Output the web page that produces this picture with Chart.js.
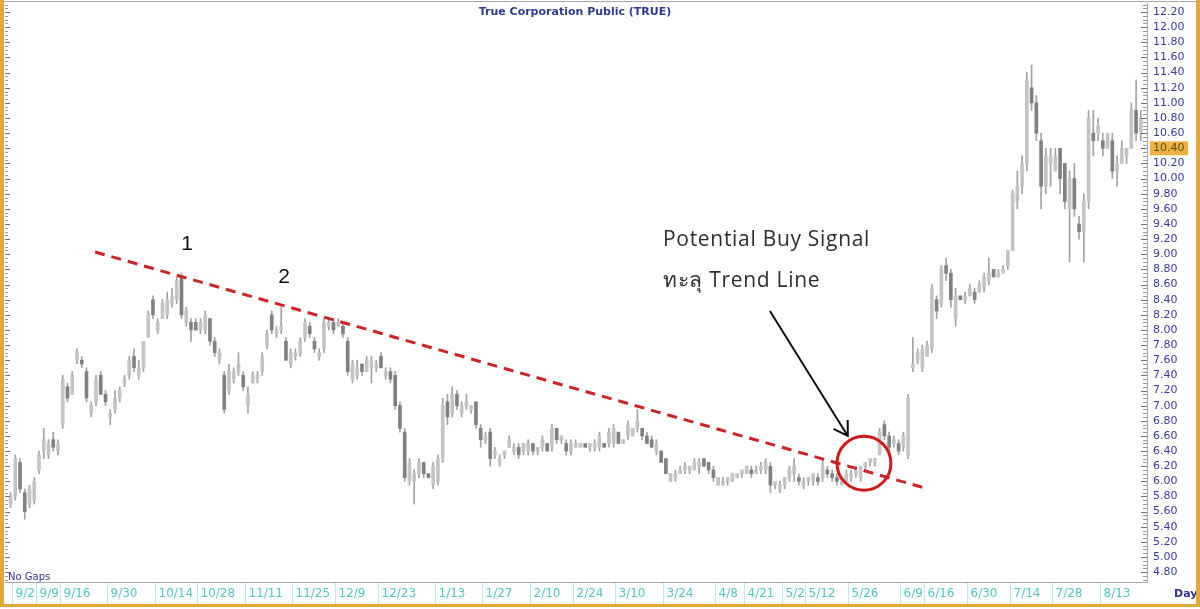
<!DOCTYPE html>
<html>
<head>
<meta charset="utf-8">
<script src="https://cdn.jsdelivr.net/npm/chart.js@4.4.1/dist/chart.umd.min.js"></script>
<style>
  html, body { margin: 0; padding: 0; background: #fff; }
  #wrap { width: 1200px; height: 609px; position: relative; }
</style>
</head>
<body>
<div id="wrap"><canvas id="myChart" width="1200" height="609"></canvas></div>
<script>
// daily candles, 30 Aug 2013 .. Aug 2014
const highs = [
  5.85,6.35,6.30,5.90,5.95,6.05,6.40,6.70,6.55,6.65,6.55,7.40,7.30,7.45,7.75,7.65,7.50,7.05,7.40,7.45,
  7.20,6.95,7.20,7.25,7.40,7.65,7.75,7.60,7.85,8.25,8.45,8.15,8.40,8.50,8.55,8.70,8.75,8.30,8.15,8.15,
  8.15,8.25,8.15,7.90,7.75,7.45,7.55,7.50,7.70,7.45,7.25,7.45,7.45,7.70,8.00,8.25,8.05,8.30,7.90,7.75,
  7.75,7.90,8.15,8.10,7.90,7.75,8.15,8.15,8.15,8.15,8.10,7.90,7.60,7.60,7.55,7.65,7.65,7.60,7.70,7.50,
  7.50,7.45,7.05,6.70,6.30,6.15,6.30,6.25,6.10,6.25,6.35,7.10,7.15,7.25,7.20,7.05,7.15,7.00,7.05,6.75,
  6.65,6.70,6.45,6.35,6.40,6.60,6.50,6.50,6.50,6.55,6.50,6.45,6.60,6.50,6.75,6.70,6.60,6.55,6.55,6.55,
  6.50,6.50,6.50,6.55,6.65,6.50,6.70,6.75,6.65,6.55,6.80,6.70,6.95,6.70,6.65,6.60,6.55,6.40,6.30,6.10,
  6.15,6.20,6.25,6.20,6.30,6.30,6.30,6.25,6.20,6.05,6.05,6.05,6.10,6.10,6.15,6.20,6.20,6.20,6.25,6.30,
  6.25,6.00,6.00,6.05,6.20,6.30,6.10,6.05,6.05,6.10,6.10,6.30,6.20,6.15,6.10,6.05,6.15,6.15,6.20,6.20,
  6.25,6.30,6.30,6.70,6.80,6.65,6.60,6.55,6.65,7.15,7.90,7.75,7.80,7.85,8.60,8.45,8.85,8.95,8.80,8.55,
  8.45,8.50,8.60,8.55,8.65,8.75,8.95,8.80,8.80,8.85,9.05,9.85,10.1,10.3,11.4,11.5,11.1,10.6,10.4,10.4,
  10.4,10.4,10.2,10.1,10.2,9.5,9.8,10.9,10.9,10.8,10.6,10.6,10.6,10.3,10.5,10.4,11.0,11.3,10.9
];
const lows = [
  5.65,5.75,5.85,5.50,5.65,5.70,6.10,6.30,6.30,6.40,6.35,6.70,7.05,7.15,7.55,7.50,7.05,6.85,7.00,7.15,
  7.00,6.75,6.90,7.05,7.25,7.35,7.45,7.35,7.45,7.90,8.15,7.95,8.15,8.15,8.30,8.35,8.15,8.05,7.85,8.00,
  7.95,7.95,7.80,7.65,7.55,6.90,7.15,7.30,7.40,7.20,6.90,7.30,7.30,7.40,7.75,7.95,7.90,7.95,7.60,7.50,
  7.60,7.65,7.85,7.90,7.70,7.60,7.70,8.00,7.95,8.05,7.90,7.40,7.30,7.35,7.40,7.45,7.30,7.45,7.50,7.35,
  7.30,6.95,6.65,6.00,5.95,5.70,6.05,6.05,6.05,5.90,5.95,6.25,6.75,6.85,6.95,6.85,6.95,6.90,6.70,6.45,
  6.50,6.20,6.30,6.20,6.30,6.45,6.35,6.30,6.35,6.35,6.35,6.35,6.40,6.40,6.40,6.50,6.50,6.35,6.35,6.45,
  6.45,6.45,6.40,6.40,6.40,6.45,6.45,6.45,6.50,6.50,6.55,6.60,6.65,6.55,6.50,6.45,6.35,6.25,6.10,6.00,
  6.00,6.10,6.10,6.10,6.15,6.10,6.20,6.10,6.00,5.95,5.95,5.95,6.00,6.05,6.05,6.10,6.05,6.10,6.10,6.10,
  5.85,5.90,5.85,5.90,6.00,6.00,5.95,5.90,5.95,5.95,5.95,6.00,6.05,6.00,5.95,5.95,6.00,6.00,6.05,6.00,
  6.15,6.20,6.20,6.35,6.55,6.40,6.45,6.35,6.40,6.30,7.45,7.55,7.45,7.65,7.70,8.15,8.30,8.65,8.30,8.05,
  8.40,8.35,8.45,8.35,8.50,8.50,8.60,8.70,8.70,8.75,8.80,9.05,9.6,9.8,10.1,10.9,10.5,9.6,9.8,9.9,
  10.1,9.8,9.6,8.9,9.5,9.2,8.9,9.6,10.3,10.5,10.3,10.4,10.0,9.9,10.2,10.2,10.4,10.5,10.5
];
const opens = [
  5.70,5.80,6.25,5.85,5.70,5.75,6.15,6.40,6.35,6.55,6.40,6.75,7.25,7.15,7.60,7.60,7.45,6.90,7.05,7.40,
  7.15,6.85,6.95,7.10,7.30,7.40,7.65,7.40,7.50,7.90,8.40,8.00,8.15,8.20,8.35,8.40,8.70,8.10,8.10,8.10,
  8.00,8.00,8.15,7.85,7.60,7.40,7.20,7.35,7.45,7.40,7.00,7.30,7.35,7.45,7.80,8.20,7.95,8.00,7.85,7.55,
  7.65,7.70,7.90,8.05,7.85,7.65,7.75,8.05,8.10,8.05,8.05,7.85,7.35,7.40,7.55,7.45,7.50,7.50,7.65,7.40,
  7.45,7.40,7.00,6.65,6.00,6.00,6.10,6.25,6.10,5.95,6.00,6.30,7.05,6.90,7.15,6.90,7.00,6.95,7.05,6.70,
  6.55,6.65,6.35,6.25,6.35,6.45,6.40,6.45,6.40,6.40,6.50,6.40,6.45,6.50,6.45,6.70,6.55,6.50,6.40,6.45,
  6.45,6.50,6.45,6.45,6.45,6.50,6.50,6.50,6.65,6.50,6.60,6.60,6.70,6.70,6.60,6.55,6.40,6.40,6.30,6.00,
  6.05,6.10,6.15,6.15,6.15,6.20,6.30,6.25,6.15,5.95,5.95,6.00,6.00,6.05,6.10,6.10,6.15,6.10,6.15,6.15,
  6.20,5.95,5.90,5.95,6.05,6.10,6.05,5.95,6.00,6.00,6.05,6.05,6.15,6.10,6.05,5.95,6.00,6.05,6.10,6.05,
  6.20,6.25,6.25,6.35,6.75,6.60,6.50,6.50,6.45,6.35,7.50,7.60,7.50,7.65,7.75,8.40,8.35,8.85,8.75,8.15,
  8.45,8.40,8.45,8.50,8.50,8.55,8.65,8.80,8.70,8.75,8.85,9.05,9.7,9.9,10.2,11.2,11.0,10.5,9.9,10.2,
  10.1,10.4,10.2,9.6,10.0,9.4,9.3,9.7,10.6,10.6,10.5,10.4,10.5,10.1,10.2,10.3,10.4,10.9,10.6
];
const closes = [
  5.80,6.30,5.90,5.60,5.90,6.00,6.35,6.55,6.50,6.45,6.50,7.35,7.10,7.40,7.70,7.55,7.10,7.00,7.35,7.15,
  7.05,6.90,7.10,7.20,7.35,7.60,7.50,7.50,7.85,8.20,8.20,8.10,8.35,8.40,8.45,8.65,8.20,8.25,8.00,8.00,
  8.10,8.20,7.85,7.70,7.70,6.95,7.45,7.45,7.55,7.25,7.15,7.40,7.40,7.65,7.95,8.00,8.00,8.05,7.60,7.70,
  7.70,7.85,8.10,7.95,7.75,7.70,8.10,8.10,8.00,8.10,7.95,7.45,7.55,7.50,7.45,7.60,7.60,7.55,7.50,7.45,
  7.35,7.00,6.70,6.05,6.25,6.10,6.25,6.10,6.05,6.20,6.30,7.00,6.85,7.15,7.00,7.00,7.05,7.00,6.75,6.55,
  6.60,6.30,6.40,6.30,6.40,6.55,6.45,6.35,6.50,6.50,6.40,6.45,6.55,6.40,6.70,6.55,6.60,6.40,6.50,6.50,
  6.50,6.45,6.50,6.50,6.60,6.45,6.65,6.70,6.50,6.55,6.75,6.70,6.80,6.60,6.50,6.45,6.50,6.25,6.10,6.10,
  6.10,6.15,6.20,6.20,6.25,6.25,6.20,6.15,6.05,6.05,6.00,6.05,6.10,6.10,6.15,6.20,6.10,6.15,6.20,6.25,
  5.95,6.00,5.95,6.05,6.15,6.20,6.00,6.00,6.05,6.10,6.00,6.20,6.10,6.05,6.00,6.00,6.10,6.10,6.15,6.20,
  6.25,6.30,6.30,6.65,6.60,6.45,6.55,6.40,6.60,7.10,7.55,7.70,7.75,7.80,8.55,8.25,8.80,8.75,8.40,8.45,
  8.40,8.45,8.55,8.40,8.60,8.70,8.75,8.70,8.75,8.80,9.05,9.80,9.9,10.2,11.3,11.0,10.6,9.9,10.3,10.3,
  10.3,10.0,9.7,10.0,9.6,9.3,9.7,10.8,10.5,10.7,10.4,10.6,10.1,10.2,10.4,10.4,10.9,10.6,10.8
];

// bottom axis: candle index where each date label starts
const xTickIdx = [1, 6, 11, 21, 31, 40, 50, 60, 69, 78, 90, 100, 110, 119, 128, 138, 149, 155, 163, 168, 177, 188, 193, 202, 211, 220, 230];
const xTickLabels = ['9/2', '9/9', '9/16', '9/30', '10/14', '10/28', '11/11', '11/25', '12/9', '12/23', '1/13', '1/27', '2/10', '2/24',
  '3/10', '3/24', '4/8', '4/21', '5/2', '5/12', '5/26', '6/9', '6/16', '6/30', '7/14', '7/28', '8/13'];

const yTicks = [4.8, 5.0, 5.2, 5.4, 5.6, 5.8, 6.0, 6.2, 6.4, 6.6, 6.8, 7.0, 7.2, 7.4, 7.6, 7.8, 8.0, 8.2, 8.4, 8.6,
  8.8, 9.0, 9.2, 9.4, 9.6, 9.8, 10.0, 10.2, 10.4, 10.6, 10.8, 11.0, 11.2, 11.4, 11.6, 11.8, 12.0, 12.2];
const lastPrice = 10.4;

// trend line (index, price) and the breakout marks
const trendX = [17.8, 192.1];
const trendY = [9.03, 5.92];
const circleAt = { x: 179.7, y: 6.24 };
const arrowFrom = { x: 159.9, y: 8.25 };
const arrowTo = { x: 176.3, y: 6.60 };

const FONT = "'DejaVu Sans', Tahoma, sans-serif";

const decor = {
  id: 'decor',
  beforeDraw(chart) {
    const { ctx, scales: { y } } = chart;
    ctx.save();
    ctx.fillStyle = '#fff';
    ctx.fillRect(0, 0, chart.width, chart.height);
    // highlighted last price on the right axis
    const py = y.getPixelForValue(lastPrice);
    ctx.fillStyle = '#eeb23e';
    ctx.fillRect(chart.chartArea.right + 3, py - 7, 38, 14);
    ctx.restore();
  },
  afterDraw(chart) {
    const { ctx, chartArea: a, scales: { x, y } } = chart;
    ctx.save();

    // plot frame
    ctx.strokeStyle = '#a8a8a8';
    ctx.lineWidth = 1;
    ctx.beginPath();
    ctx.moveTo(0, 1.5); ctx.lineTo(1200, 1.5);
    ctx.moveTo(a.left, a.bottom + 0.5); ctx.lineTo(a.right + 0.5, a.bottom + 0.5);
    ctx.moveTo(a.right + 0.5, a.top); ctx.lineTo(a.right + 0.5, a.bottom + 0.5);
    ctx.stroke();

    // ruler marks on both edges
    for (let k = 0; k <= 152; k++) {
      const v = 4.7 + k * 0.05;
      const py = Math.round(y.getPixelForValue(v)) + 0.5;
      if (py < a.top || py > a.bottom) continue;
      const major = (k - 2) % 4 === 0;
      ctx.strokeStyle = major ? '#707070' : '#9a9a9a';
      ctx.beginPath();
      ctx.moveTo(a.right - (major ? 6 : 4), py); ctx.lineTo(a.right, py);
      ctx.moveTo(a.left, py); ctx.lineTo(a.left + (major ? 5 : 3), py);
      ctx.stroke();
    }

    // date band
    ctx.font = '12px ' + FONT;
    ctx.textBaseline = 'middle';
    ctx.textAlign = 'left';
    xTickIdx.forEach((idx, k) => {
      const sx = Math.round(x.getPixelForValue(idx) - 3) + 0.5;
      ctx.strokeStyle = '#bfeaea';
      ctx.beginPath();
      ctx.moveTo(sx, a.bottom + 1); ctx.lineTo(sx, 604);
      ctx.stroke();
      ctx.fillStyle = '#52c6c6';
      ctx.fillText(xTickLabels[k], sx + 3, 594);
    });
    ctx.fillStyle = '#33348f';
    ctx.font = 'bold 11px ' + FONT;
    ctx.fillText('Day', 1174, 594);
    ctx.font = '10px ' + FONT;
    ctx.fillText('No Gaps', 8, 577);

    // gold frame
    ctx.fillStyle = '#e2a83c';
    ctx.fillRect(0, 0, 4, 607);
    ctx.fillRect(0, 604, 1200, 3);
    ctx.fillRect(1196, 0, 4, 607);

    // title
    ctx.fillStyle = '#2e3c8c';
    ctx.font = 'bold 11px ' + FONT;
    ctx.textAlign = 'center';
    ctx.fillText('True Corporation Public (TRUE)', 575, 12);

    // annotations
    ctx.fillStyle = '#111';
    ctx.font = "21px 'Liberation Sans', Arial, sans-serif";
    ctx.fillText('1', 187, 244);
    ctx.fillText('2', 284, 277);

    ctx.textAlign = 'left';
    ctx.fillStyle = '#2e2e2e';
    ctx.font = "400 21px 'Open Sans', 'Noto Sans', sans-serif";
    ctx.letterSpacing = '0.7px';
    ctx.fillText('Potential Buy Signal', 663, 240);
    ctx.fillText('ทะลุ Trend Line', 663, 281);
    ctx.letterSpacing = '0px';

    // arrow
    const x1 = x.getPixelForValue(arrowFrom.x), y1 = y.getPixelForValue(arrowFrom.y);
    const x2 = x.getPixelForValue(arrowTo.x), y2 = y.getPixelForValue(arrowTo.y);
    const ang = Math.atan2(y2 - y1, x2 - x1);
    ctx.strokeStyle = '#111';
    ctx.lineWidth = 2;
    ctx.beginPath();
    ctx.moveTo(x1, y1); ctx.lineTo(x2, y2);
    ctx.moveTo(x2 - 16 * Math.cos(ang - 0.55), y2 - 16 * Math.sin(ang - 0.55));
    ctx.lineTo(x2, y2);
    ctx.lineTo(x2 - 16 * Math.cos(ang + 0.55), y2 - 16 * Math.sin(ang + 0.55));
    ctx.stroke();

    ctx.restore();
  }
};

const idx = highs.map((_, i) => i);
const ctx = document.getElementById('myChart').getContext('2d');
new Chart(ctx, {
  type: 'bar',
  data: {
    datasets: [
      {
        label: 'wick',
        data: idx.map(i => ({ x: i, y: [lows[i], highs[i]] })),
        backgroundColor: '#a2a2a2',
        barThickness: 1,
        grouped: false,
        order: 4
      },
      {
        label: 'body',
        data: idx.map(i => ({ x: i, y: [Math.min(opens[i], closes[i]), Math.max(opens[i], closes[i])] })),
        backgroundColor: idx.map(i => closes[i] >= opens[i] ? '#c4c4c4' : '#808080'),
        barThickness: 3,
        minBarLength: 1,
        grouped: false,
        order: 3
      },
      {
        type: 'line',
        label: 'trend',
        data: trendX.map((v, i) => ({ x: v, y: trendY[i] })),
        borderColor: '#cc2424',
        borderWidth: 3,
        borderDash: [10, 7],
        pointRadius: 0,
        order: 2
      },
      {
        type: 'scatter',
        label: 'signal',
        data: [circleAt],
        pointRadius: 27,
        pointHoverRadius: 27,
        borderColor: '#d01818',
        borderWidth: 3,
        backgroundColor: 'rgba(0,0,0,0)',
        clip: false,
        order: 1
      }
    ]
  },
  options: {
    responsive: false,
    animation: false,
    events: [],
    layout: { autoPadding: false, padding: { left: 5, top: 3, right: 3, bottom: 27 } },
    plugins: { legend: { display: false }, tooltip: { enabled: false } },
    scales: {
      x: { type: 'linear', min: -1.16, max: 239.3, display: false, offset: false },
      y: {
        position: 'right',
        min: 4.67,
        max: 12.32,
        afterFit(s) { s.width = 50; s.paddingTop = 0; s.paddingBottom = 0; },
        afterBuildTicks(s) { s.ticks = yTicks.map(v => ({ value: v })); },
        grid: { drawOnChartArea: false, drawTicks: false },
        border: { display: false },
        ticks: {
          autoSkip: false,
          padding: 6,
          font: { family: FONT, size: 11 },
          color: c => c.tick && Math.abs(c.tick.value - lastPrice) < 1e-6 ? '#5a4a20' : '#3a3a9c',
          callback: v => v.toFixed(2)
        }
      }
    }
  },
  plugins: [decor]
});
</script>
</body>
</html>
